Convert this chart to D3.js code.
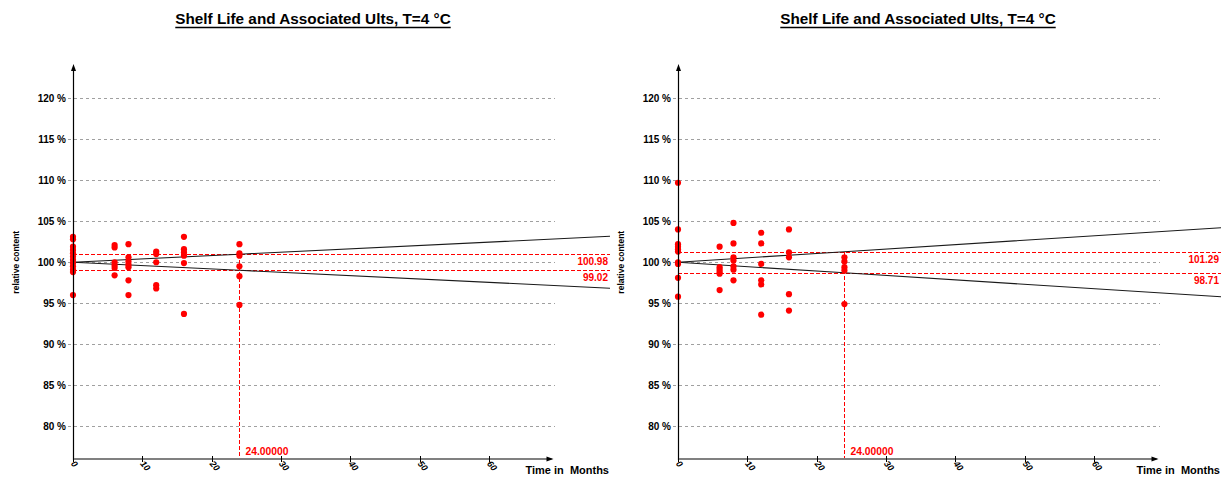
<!DOCTYPE html>
<html>
<head>
<meta charset="utf-8">
<script src="https://cdn.jsdelivr.net/npm/d3@7"></script>
<style>
  html, body { margin: 0; padding: 0; background: #fff; }
  svg { display: block; font-family: "Liberation Sans", Arial, sans-serif; }
</style>
</head>
<body>
<svg id="chart" width="1221" height="481"></svg>
<script>
// ---- data ----
const titleText = "Shelf Life and Associated Ults, T=4 \u00B0C";
const yTicks = [80, 85, 90, 95, 100, 105, 110, 115, 120];
const xTicks = [0, 10, 20, 30, 40, 50, 60];
const shelfLife = 24;

// left panel measurements (time in months, relative content in %)
const leftTimes  = [0,0,0,0,0,0,0,0,0,0,0,0, 6,6,6,6,6,6, 8,8,8,8,8,8,8, 12,12,12,12,12, 16,16,16,16,16,16, 24,24,24,24,24,24];
const leftValues = [103.1,102.8,101.9,101.5,101.1,100.7,100.3,99.9,99.5,99.1,98.8,96.0,
                    102.1,101.8,100.0,99.6,99.3,98.4,
                    102.2,100.6,100.1,99.7,99.4,97.8,96.0,
                    101.3,101.0,100.0,97.2,96.8,
                    103.1,101.6,101.2,100.8,99.9,93.7,
                    102.2,101.1,100.8,99.5,98.3,94.8];

// right panel measurements
const rightTimes  = [0,0,0,0,0,0,0,0,0,0, 6,6,6,6,6,6, 8,8,8,8,8,8,8, 12,12,12,12,12,12, 16,16,16,16,16, 24,24,24,24,24];
const rightValues = [109.7,104.0,102.2,101.9,101.6,101.3,99.8,98.1,95.8,100.0,
                     101.9,99.4,99.1,98.8,98.6,96.6,
                     104.8,102.3,100.6,100.2,99.5,99.1,97.8,
                     103.6,102.3,99.8,97.8,97.3,93.6,
                     104.0,101.2,100.6,96.1,94.1,
                     100.6,100.1,99.4,99.0,94.9];

// confidence bounds of the regression
const boundTimes = [0, 24, 80];
const leftUpper  = [100.0, 100.98, 103.27];
const leftLower  = [100.0, 99.02, 96.73];
const rightUpper = [100.0, 101.29, 104.30];
const rightLower = [100.0, 98.71, 95.70];

// limits at the shelf life
const leftLimits  = [100.98, 99.02];
const rightLimits = [101.29, 98.71];

// ---- drawing ----
const svg = d3.select("#chart");
const defs = svg.append("defs");
const RED = "#ff0000";

function drawPanel(cfg) {
  const x = d3.scaleLinear().domain([0, 69]).range([cfg.x0, cfg.x0 + 478.5]);
  const y = d3.scaleLinear().domain([76, 124]).range([459, 65.5]);
  const g = svg.append("g");

  const clipId = "clip-" + cfg.id;
  defs.append("clipPath").attr("id", clipId)
    .append("rect").attr("x", cfg.left).attr("y", 0)
    .attr("width", cfg.right - cfg.left).attr("height", 481);

  // title with underline
  const title = g.append("text")
    .attr("x", cfg.x0 + 240).attr("y", 24)
    .attr("text-anchor", "middle")
    .attr("font-size", 15.3).attr("font-weight", "bold")
    .text(titleText);
  const tw = title.node().getComputedTextLength();
  g.append("line")
    .attr("x1", cfg.x0 + 240 - tw / 2).attr("x2", cfg.x0 + 240 + tw / 2)
    .attr("y1", 27.5).attr("y2", 27.5)
    .attr("stroke", "#000").attr("stroke-width", 1.5);

  // horizontal grid with tick labels
  const gridEnd = x(69) + 3.5;
  yTicks.forEach(v => {
    g.append("line")
      .attr("x1", cfg.x0 - 5).attr("x2", gridEnd)
      .attr("y1", Math.round(y(v)) + 0.5).attr("y2", Math.round(y(v)) + 0.5)
      .attr("stroke", "#a0a0a0").attr("stroke-dasharray", "3,3")
      .attr("shape-rendering", "crispEdges");
    g.append("text")
      .attr("x", cfg.x0 - 7).attr("y", y(v) + 3.5)
      .attr("text-anchor", "end")
      .attr("font-size", 10).attr("font-weight", "bold")
      .text(v + " %");
  });

  // y axis title
  g.append("text")
    .attr("transform", `translate(${cfg.x0 - 54},${y(100)}) rotate(-90)`)
    .attr("text-anchor", "middle")
    .attr("font-size", 8.5).attr("font-weight", "bold")
    .text("relative content");

  const clipped = g.append("g").attr("clip-path", `url(#${clipId})`);

  // limits at the shelf life
  cfg.limits.forEach(v => {
    clipped.append("line")
      .attr("x1", cfg.x0).attr("x2", cfg.right)
      .attr("y1", Math.round(y(v)) + 0.5).attr("y2", Math.round(y(v)) + 0.5)
      .attr("stroke", RED).attr("stroke-width", 1.2).attr("stroke-dasharray", "4,2")
      .attr("shape-rendering", "crispEdges");
  });
  g.append("line")
    .attr("x1", Math.round(x(shelfLife)) + 0.5).attr("x2", Math.round(x(shelfLife)) + 0.5)
    .attr("y1", y(cfg.limits[0])).attr("y2", 459)
    .attr("stroke", RED).attr("stroke-width", 1.2).attr("stroke-dasharray", "4,2")
    .attr("shape-rendering", "crispEdges");

  // confidence bounds
  const line = d3.line().x((d, i) => x(boundTimes[i])).y(d => y(d));
  [cfg.upper, cfg.lower].forEach(arr => {
    clipped.append("path")
      .attr("d", line(arr))
      .attr("fill", "none").attr("stroke", "#1a1a1a").attr("stroke-width", 1.1);
  });

  // measurements
  g.selectAll(null).data(cfg.values).enter().append("circle")
    .attr("cx", (d, i) => x(cfg.times[i]))
    .attr("cy", d => y(d))
    .attr("r", 3.1)
    .attr("fill", RED);

  // value labels
  cfg.limits.forEach(v => {
    g.append("text")
      .attr("x", cfg.right - 2).attr("y", y(v) + 11)
      .attr("text-anchor", "end")
      .attr("font-size", 10).attr("font-weight", "bold")
      .attr("fill", RED)
      .text(v.toFixed(2));
  });
  g.append("text")
    .attr("x", x(shelfLife) + 6).attr("y", 455)
    .attr("font-size", 10.3).attr("font-weight", "bold")
    .attr("fill", RED)
    .text(shelfLife.toFixed(5));

  // y axis with arrow
  g.append("line")
    .attr("x1", cfg.x0 + 0.5).attr("x2", cfg.x0 + 0.5)
    .attr("y1", 460).attr("y2", 68)
    .attr("stroke", "#000").attr("stroke-width", 1.2);
  g.append("path")
    .attr("d", `M${cfg.x0 + 0.5},64 L${cfg.x0 - 2},71 L${cfg.x0 + 3},71 Z`)
    .attr("fill", "#000");

  // x axis with arrow
  g.append("line")
    .attr("x1", cfg.x0).attr("x2", x(69))
    .attr("y1", 459).attr("y2", 459)
    .attr("stroke", "#808080").attr("stroke-width", 2);
  g.append("path")
    .attr("d", `M${x(69) + 2},459 L${x(69) - 5},456.5 L${x(69) - 5},461.5 Z`)
    .attr("fill", "#000");

  xTicks.forEach(t => {
    g.append("line")
      .attr("x1", Math.round(x(t)) + 0.5).attr("x2", Math.round(x(t)) + 0.5)
      .attr("y1", 456).attr("y2", 462)
      .attr("stroke", "#000");
    g.append("text")
      .attr("transform", `translate(${x(t) - 2.5},${464}) rotate(50)`)
      .attr("font-size", 9).attr("font-weight", "bold").attr("font-style", "italic")
      .text(t);
  });

  g.append("text")
    .attr("x", cfg.right - 1).attr("y", 474)
    .attr("text-anchor", "end")
    .attr("font-size", 11).attr("font-weight", "bold")
    .text("Time in\u00A0 Months");
}

drawPanel({ id: "left", x0: 73, left: 0, right: 610, times: leftTimes, values: leftValues,
            upper: leftUpper, lower: leftLower, limits: leftLimits });
drawPanel({ id: "right", x0: 678, left: 610, right: 1221, times: rightTimes, values: rightValues,
            upper: rightUpper, lower: rightLower, limits: rightLimits });
</script>
</body>
</html>
